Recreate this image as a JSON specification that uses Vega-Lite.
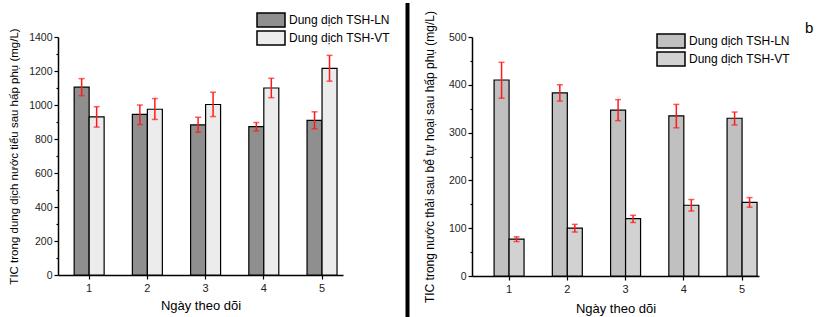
{
  "$schema": "https://vega.github.io/schema/vega-lite/v6.json",
  "padding": {"left": 8, "top": 0, "right": 0, "bottom": 0},
  "bounds": "flush",
  "spacing": 64,
  "resolve": {"scale": {"fill": "independent", "x": "independent", "y": "independent"}, "legend": {"fill": "independent"}},
  "config": {
    "view": {"stroke": null},
    "font": "Liberation Sans",
    "axis": {"domainColor": "black", "domainWidth": 1.5, "tickColor": "black", "tickWidth": 1.2, "tickSize": 4, "labelFont": "Liberation Sans", "labelFontSize": 10.5, "labelColor": "#222", "titleFont": "Liberation Sans", "titleFontWeight": "normal", "titleColor": "black", "grid": false, "labelOverlap": false},
    "legend": {"labelFont": "Liberation Sans", "labelFontSize": 12, "labelColor": "black", "padding": 0, "rowPadding": -10, "labelOffset": 10, "symbolStrokeColor": "black", "symbolStrokeWidth": 1.5, "symbolOpacity": 1, "symbolType": "M-2,-1H2V1H-2Z", "symbolSize": 196}
  },
  "hconcat": [
    {
      "width": 285,
      "height": 238,
      "data": {"values": [
        {"day": "1", "series": "Dung dịch TSH-LN", "value": 1105, "lo": 1055, "hi": 1155},
        {"day": "2", "series": "Dung dịch TSH-LN", "value": 945, "lo": 885, "hi": 1000},
        {"day": "3", "series": "Dung dịch TSH-LN", "value": 883, "lo": 840, "hi": 928},
        {"day": "4", "series": "Dung dịch TSH-LN", "value": 873, "lo": 848, "hi": 897},
        {"day": "5", "series": "Dung dịch TSH-LN", "value": 910, "lo": 860, "hi": 960},
        {"day": "1", "series": "Dung dịch TSH-VT", "value": 930, "lo": 870, "hi": 990},
        {"day": "2", "series": "Dung dịch TSH-VT", "value": 975, "lo": 915, "hi": 1038},
        {"day": "3", "series": "Dung dịch TSH-VT", "value": 1003, "lo": 932, "hi": 1075},
        {"day": "4", "series": "Dung dịch TSH-VT", "value": 1100, "lo": 1043, "hi": 1157},
        {"day": "5", "series": "Dung dịch TSH-VT", "value": 1215, "lo": 1140, "hi": 1292}
      ]},
      "encoding": {
        "x": {"field": "day", "type": "nominal", "scale": {"paddingInner": 0.485, "paddingOuter": 0.19, "align": 0.73},
              "axis": {"title": "Ngày theo dõi", "labelAngle": 0, "titleFontSize": 13, "titlePadding": 6, "labelPadding": 3, "labelFontSize": 11}},
        "xOffset": {"field": "series", "type": "nominal", "scale": {"paddingInner": 0, "paddingOuter": 0}}
      },
      "resolve": {"axis": {"y": "independent"}},
      "layer": [
        {
          "mark": {"type": "bar", "stroke": "black", "strokeWidth": 1.2},
          "encoding": {
            "y": {"field": "value", "type": "quantitative", "scale": {"domain": [0, 1400], "nice": false},
                  "axis": {"orient": "left", "title": "TIC trong dung dịch nước tiểu sau hấp phụ (mg/L)", "titleFontSize": 11.5, "titlePadding": 9, "format": "d", "labelOverlap": false,
                           "values": [0,100,200,300,400,500,600,700,800,900,1000,1100,1200,1300,1400],
                           "labelExpr": "datum.value % 200 === 0 ? datum.label : ''",
                           "tickSize": {"condition": {"test": "datum.value % 200 !== 0", "value": 2}, "value": 4}}},
            "fill": {"field": "series", "type": "nominal",
                     "scale": {"domain": ["Dung dịch TSH-LN", "Dung dịch TSH-VT"], "range": ["#8f8f8f", "#ececec"]},
                     "legend": {"orient": "none", "legendX": 205, "legendY": -25, "title": null}}
          }
        },
        {
          "mark": {"type": "rule", "color": "#ff1a1a", "strokeWidth": 1.5},
          "encoding": {"y": {"field": "lo", "type": "quantitative", "axis": null}, "y2": {"field": "hi"}}
        },
        {
          "mark": {"type": "tick", "color": "#ff1a1a", "size": 6, "thickness": 1.5},
          "encoding": {"y": {"field": "lo", "type": "quantitative", "axis": null}}
        },
        {
          "mark": {"type": "tick", "color": "#ff1a1a", "size": 6, "thickness": 1.5},
          "encoding": {"y": {"field": "hi", "type": "quantitative", "axis": null}}
        }
      ]
    },
    {
      "width": 1,
      "height": 238,
      "data": {"values": [{"k": 0}]},
      "mark": {"type": "rule", "color": "black", "strokeWidth": 4, "clip": false},
      "encoding": {
        "y": {"datum": -0.18, "type": "quantitative", "scale": {"domain": [0, 1], "nice": false, "zero": false}, "axis": null},
        "y2": {"datum": 1.1429}
      }
    },
    {
      "width": 287,
      "height": 239,
      "data": {"values": [
        {"day": "1", "series": "Dung dịch TSH-LN", "value": 410, "lo": 372, "hi": 447},
        {"day": "2", "series": "Dung dịch TSH-LN", "value": 383, "lo": 366, "hi": 400},
        {"day": "3", "series": "Dung dịch TSH-LN", "value": 347, "lo": 325, "hi": 369},
        {"day": "4", "series": "Dung dịch TSH-LN", "value": 335, "lo": 310, "hi": 359},
        {"day": "5", "series": "Dung dịch TSH-LN", "value": 330, "lo": 316, "hi": 343},
        {"day": "1", "series": "Dung dịch TSH-VT", "value": 77, "lo": 72, "hi": 82},
        {"day": "2", "series": "Dung dịch TSH-VT", "value": 100, "lo": 92, "hi": 108},
        {"day": "3", "series": "Dung dịch TSH-VT", "value": 120, "lo": 112, "hi": 127},
        {"day": "4", "series": "Dung dịch TSH-VT", "value": 148, "lo": 136, "hi": 160},
        {"day": "5", "series": "Dung dịch TSH-VT", "value": 154, "lo": 144, "hi": 164}
      ]},
      "encoding": {
        "x": {"field": "day", "type": "nominal", "scale": {"paddingInner": 0.485, "paddingOuter": 0.206, "align": 0.92},
              "axis": {"title": "Ngày theo dõi", "labelAngle": 0, "titleFontSize": 13, "titlePadding": 8, "labelPadding": 3, "labelFontSize": 11}},
        "xOffset": {"field": "series", "type": "nominal", "scale": {"paddingInner": 0, "paddingOuter": 0}}
      },
      "resolve": {"axis": {"y": "independent"}},
      "layer": [
        {
          "mark": {"type": "bar", "stroke": "black", "strokeWidth": 1.2},
          "encoding": {
            "y": {"field": "value", "type": "quantitative", "scale": {"domain": [0, 500], "nice": false},
                  "axis": {"orient": "left", "title": "TIC trong nước thải sau bể tự hoại sau hấp phụ (mg/L)", "titleFontSize": 12, "titlePadding": 12, "format": "d", "labelOverlap": false,
                           "values": [0,50,100,150,200,250,300,350,400,450,500],
                           "labelExpr": "datum.value % 100 === 0 ? datum.label : ''",
                           "tickSize": {"condition": {"test": "datum.value % 100 !== 0", "value": 2}, "value": 4}}},
            "fill": {"field": "series", "type": "nominal",
                     "scale": {"domain": ["Dung dịch TSH-LN", "Dung dịch TSH-VT"], "range": ["#c0c0c0", "#d2d2d2"]},
                     "legend": {"orient": "none", "legendX": 191, "legendY": -4, "title": "b", "titleOrient": "right", "titleAnchor": "start", "titleBaseline": "alphabetic", "titleFontSize": 15, "titleFontWeight": "normal", "titleColor": "black", "titlePadding": 15, "titleFont": "Liberation Sans"}}
          }
        },
        {
          "mark": {"type": "rule", "color": "#ff1a1a", "strokeWidth": 1.5},
          "encoding": {"y": {"field": "lo", "type": "quantitative", "axis": null}, "y2": {"field": "hi"}}
        },
        {
          "mark": {"type": "tick", "color": "#ff1a1a", "size": 6, "thickness": 1.5},
          "encoding": {"y": {"field": "lo", "type": "quantitative", "axis": null}}
        },
        {
          "mark": {"type": "tick", "color": "#ff1a1a", "size": 6, "thickness": 1.5},
          "encoding": {"y": {"field": "hi", "type": "quantitative", "axis": null}}
        }
      ]
    }
  ]
}
